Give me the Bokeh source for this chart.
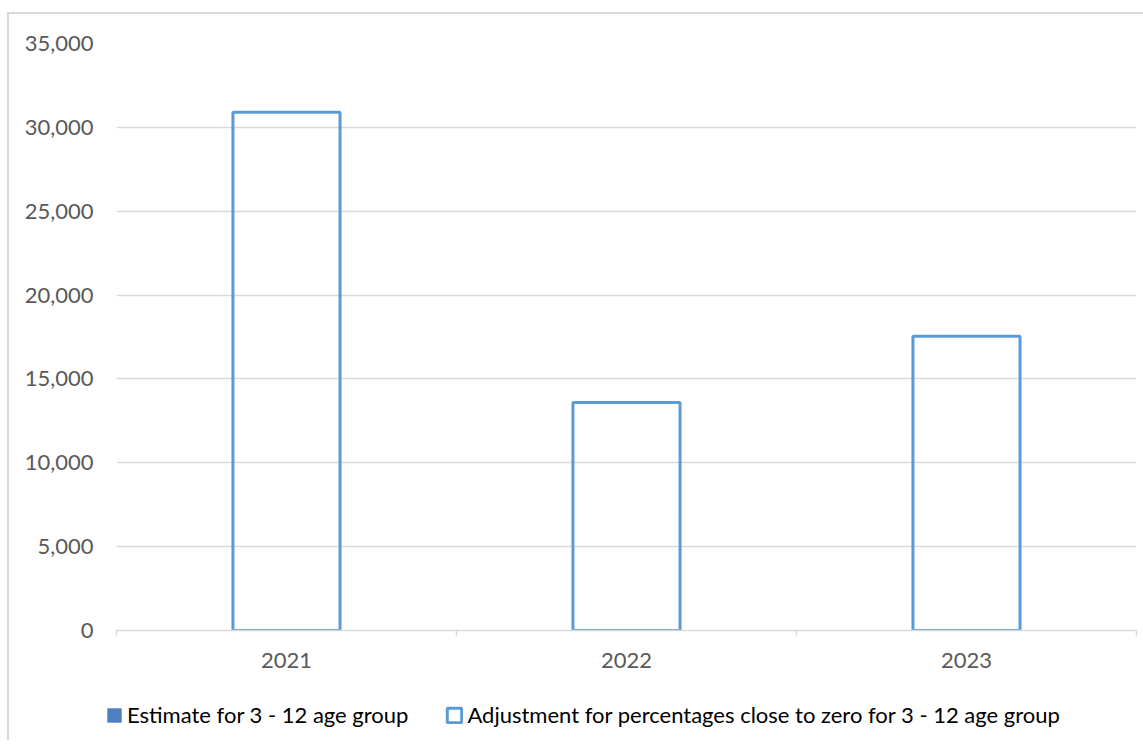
from bokeh.plotting import figure
from bokeh.layouts import column
from bokeh.models import (ColumnDataSource, FixedTicker, NumeralTickFormatter,
                          Range1d, Legend, LegendItem)
from bokeh.embed import file_html
from bokeh.resources import INLINE

# Children aged 3-12: estimate plus adjustment for near-zero percentages
years = ["2021", "2022", "2023"]
estimate = [0, 0, 0]
adjustment = [30900, 13600, 17550]
y_ticks = [0, 5000, 10000, 15000, 20000, 25000, 30000, 35000]
series_names = ["Estimate for 3 - 12 age group",
                "Adjustment for percentages close to zero for 3 - 12 age group"]

FONT = "Lato"
FS = "22px"
EST_COLOR = "#4e7fbf"
ADJ_COLOR = "#5b9bd5"
BAR_W = 0.315
LEFT_BORDER = 107
WIDTH = 1134
LEGEND_SHIFT = 60

x_pos = [i + 0.5 for i in range(len(years))]
top_total = [e + a for e, a in zip(estimate, adjustment)]
src = ColumnDataSource(dict(x=x_pos, est=estimate, adj=adjustment, total=top_total))

# ---- main chart -------------------------------------------------------------
p = figure(width=WIDTH, height=666, output_backend="svg", toolbar_location=None,
           x_range=Range1d(0, len(years)), y_range=Range1d(0, 35000),
           min_border_left=LEFT_BORDER, min_border_right=7, min_border_top=29,
           min_border_bottom=50)
p.outline_line_color = None

p.vbar(x="x", top="est", bottom=0, width=BAR_W, source=src,
       fill_color=EST_COLOR, line_color=None)
p.vbar(x="x", top="total", bottom="est", width=BAR_W, source=src,
       fill_color=None, line_color=ADJ_COLOR, line_width=3)

yax = p.yaxis[0]
yax.ticker = FixedTicker(ticks=y_ticks)
yax.formatter = NumeralTickFormatter(format="0,0")
yax.axis_line_color = None
yax.major_tick_line_color = None
yax.minor_tick_line_color = None
yax.major_label_text_font = FONT
yax.major_label_text_font_size = FS
yax.major_label_text_color = "#595959"
yax.major_label_standoff = 17

# year labels at category centres, ticks on category boundaries
xax = p.xaxis[0]
xax.ticker = FixedTicker(ticks=x_pos, minor_ticks=list(range(len(years) + 1)))
xax.major_label_overrides = {x: y for x, y in zip(x_pos, years)}
xax.major_tick_line_color = None
xax.minor_tick_out = 5
xax.minor_tick_in = 0
xax.minor_tick_line_color = "#d9d9d9"
xax.minor_tick_line_width = 1.5
xax.axis_line_color = "#d9d9d9"
xax.axis_line_width = 1.5
xax.major_label_text_font = FONT
xax.major_label_text_font_size = FS
xax.major_label_text_color = "#595959"
xax.major_label_standoff = 16

p.xgrid.grid_line_color = None
p.ygrid.ticker = FixedTicker(ticks=y_ticks)
p.ygrid.grid_line_color = "#d9d9d9"
p.ygrid.grid_line_width = 1.5

# ---- legend strip -----------------------------------------------------------
leg = figure(width=WIDTH, height=60, output_backend="svg", toolbar_location=None,
             x_range=Range1d(0, 1), y_range=Range1d(0, 1),
             x_axis_type=None, y_axis_type=None,
             min_border_left=0, min_border_right=0, min_border_top=0,
             min_border_bottom=0)
leg.outline_line_color = None
leg.background_fill_alpha = 0
leg.border_fill_alpha = 0
# the column lines this frame up with the chart frame; nudge it left a bit
leg.styles = {"margin-left": f"-{LEGEND_SHIFT}px"}

k_est = leg.vbar(x="x", top="est", width=BAR_W, source=src,
                 fill_color=EST_COLOR, line_color=None, visible=False)
k_adj = leg.vbar(x="x", top="total", bottom="est", width=BAR_W, source=src,
                 fill_color=None, line_color=ADJ_COLOR, line_width=3, visible=False)

legend = Legend(items=[LegendItem(label=series_names[0], renderers=[k_est]),
                       LegendItem(label=series_names[1], renderers=[k_adj])],
                orientation="horizontal", location=(96 - LEFT_BORDER + LEGEND_SHIFT, 12),
                border_line_color=None, background_fill_alpha=0,
                inactive_fill_alpha=0, click_policy="none",
                label_text_font=FONT, label_text_font_size=FS,
                label_text_color="#000000", glyph_width=18, glyph_height=18,
                spacing=37, label_standoff=4, margin=0, padding=0)
leg.add_layout(legend, "center")

layout = column(p, leg, spacing=0)
layout.styles = {"margin-left": "7px", "margin-top": "12px",
                 "border-left": "2px solid #d9d9d9", "border-top": "2px solid #d9d9d9"}

open("out.html", "w").write(file_html(layout, INLINE))
